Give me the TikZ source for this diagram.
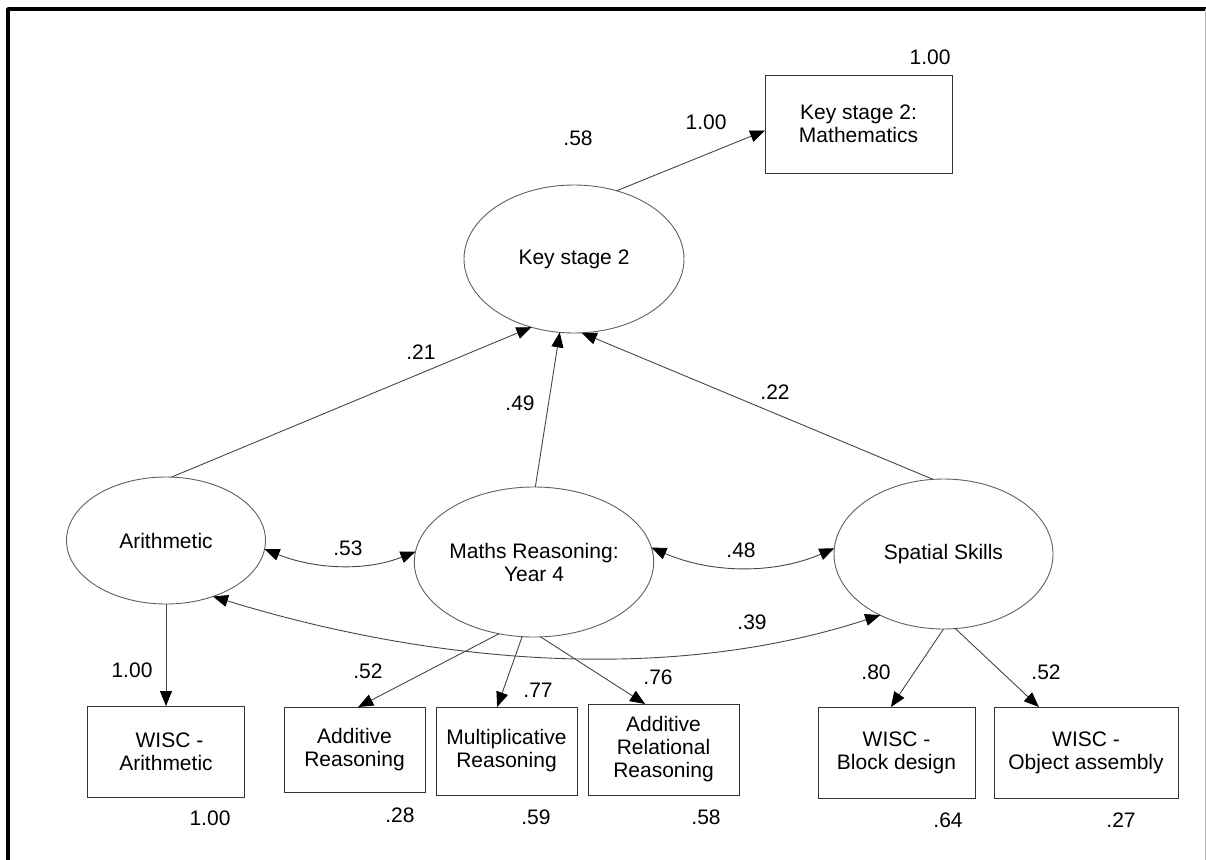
\documentclass[tikz,border=0pt]{standalone}
\usepackage{fontspec}
\setmainfont{Liberation Sans}
\usetikzlibrary{arrows.meta,shapes.geometric}

\definecolor{edgegray}{RGB}{70,70,70}
\definecolor{rimgray}{RGB}{95,95,95}

\tikzset{
  every node/.style={font=\fontsize{21}{23}\selectfont, inner sep=0pt, outer sep=0pt},
  latent/.style={ellipse, draw=rimgray, line width=0.9pt, align=center},
  observed/.style={rectangle, draw=black!80, line width=1pt, align=center},
  num/.style={},
  tip/.style={Triangle[length=15pt,width=12pt,fill=black,color=black]},
  path/.style={draw=edgegray, line width=0.9pt, -{Triangle[length=15pt,width=12pt,color=black]}},
  covar/.style={draw=edgegray, line width=0.9pt,
    {Triangle[length=15pt,width=12pt,color=black]}-{Triangle[length=15pt,width=12pt,color=black]}},
}

\begin{document}
\begin{tikzpicture}[x=1pt,y=-1pt]
\useasboundingbox (0,0) rectangle (1206,859);

% outer frame
\draw[line width=3.5pt, line join=round] (8,880) -- (8,9) -- (1220,9);
\draw[black!25, line width=1pt] (1205.5,9) -- (1205.5,880);

% latent variables
\node[latent, minimum width=220pt, minimum height=148pt] (ks2) at (574,259) {Key stage 2};
\node[latent, minimum width=199pt, minimum height=127pt] (arith) at (166,540.5) {Arithmetic};
\node[latent, minimum width=218pt, minimum height=150pt] (maths) at (534,562) {Maths Reasoning:\\Year 4};
\node[latent, minimum width=219pt, minimum height=150pt] (spat) at (943.5,554) {Spatial Skills};

% observed variables
\node[observed, minimum width=187pt, minimum height=98pt] (ksm) at (858.5,124) {Key stage 2:\\Mathematics};
\node[observed, minimum width=157pt, minimum height=91pt] (wa) at (166,751.5) {\,\,WISC -\\Arithmetic};
\node[observed, minimum width=141pt, minimum height=85pt] (ar) at (354.5,749.5) {Additive\\Reasoning};
\node[observed, minimum width=141pt, minimum height=88pt] (mr) at (506.5,751) {Multiplicative\\Reasoning};
\node[observed, minimum width=151pt, minimum height=91pt] (arr) at (663.5,749.5) {Additive\\Relational\\Reasoning};
\node[observed, minimum width=157pt, minimum height=91pt] (bd) at (896.5,752.5) {WISC -\\Block design};
\node[observed, minimum width=184pt, minimum height=91pt] (oa) at (1086,752.5) {WISC -\\Object assembly};

% structural paths
\draw[path] (ks2.58) -- (ksm.184);
\draw[path] (arith.85) -- (ks2.238);
\draw[path] (maths.89) -- (ks2.259);
\draw[path] (spat.98) -- (ks2.276);

% measurement paths
\draw[path] (arith.south) -- (wa.north);
\draw[path] (maths.244) -- (ar.85);
\draw[path] (maths.261) -- (mr.102);
\draw[path] (maths.275) -- (arr.112);
\draw[path] (spat.270) -- (bd.97);
\draw[path] (spat.279) -- (oa.136);

% covariances
\draw[covar] (arith.355) .. controls +(50,20) and +(-50,20) .. (maths.175);
\draw[covar] (maths.7) .. controls +(60,26) and +(-60,26) .. (spat.177);
\draw[covar] (arith.310) .. controls +(215,66) and +(-215,70) .. (spat.224);

% coefficients
\node[num] (r2ksm) at (930,57) {1.00};
\node[num] (pksm) at (706,122) {1.00};
\node[num] (r2ks2) at (578,138) {.58};
\node[num] (p21) at (421,352) {.21};
\node[num] (p49) at (520,403) {.49};
\node[num] (p22) at (775,392) {.22};
\node[num] (c53) at (348,548) {.53};
\node[num] (c48) at (741,550) {.48};
\node[num] (c39) at (752,622) {.39};
\node[num] (lwa) at (132,670) {1.00};
\node[num] (lar) at (368,671) {.52};
\node[num] (lmr) at (538,690) {.77};
\node[num] (larr) at (658,677) {.76};
\node[num] (lbd) at (876,672) {.80};
\node[num] (loa) at (1046,672) {.52};
\node[num] (r2wa) at (210,818) {1.00};
\node[num] (r2ar) at (400,815) {.28};
\node[num] (r2mr) at (536,817) {.59};
\node[num] (r2arr) at (706,817) {.58};
\node[num] (r2bd) at (948,820) {.64};
\node[num] (r2oa) at (1121,820) {.27};
\end{tikzpicture}
\end{document}
